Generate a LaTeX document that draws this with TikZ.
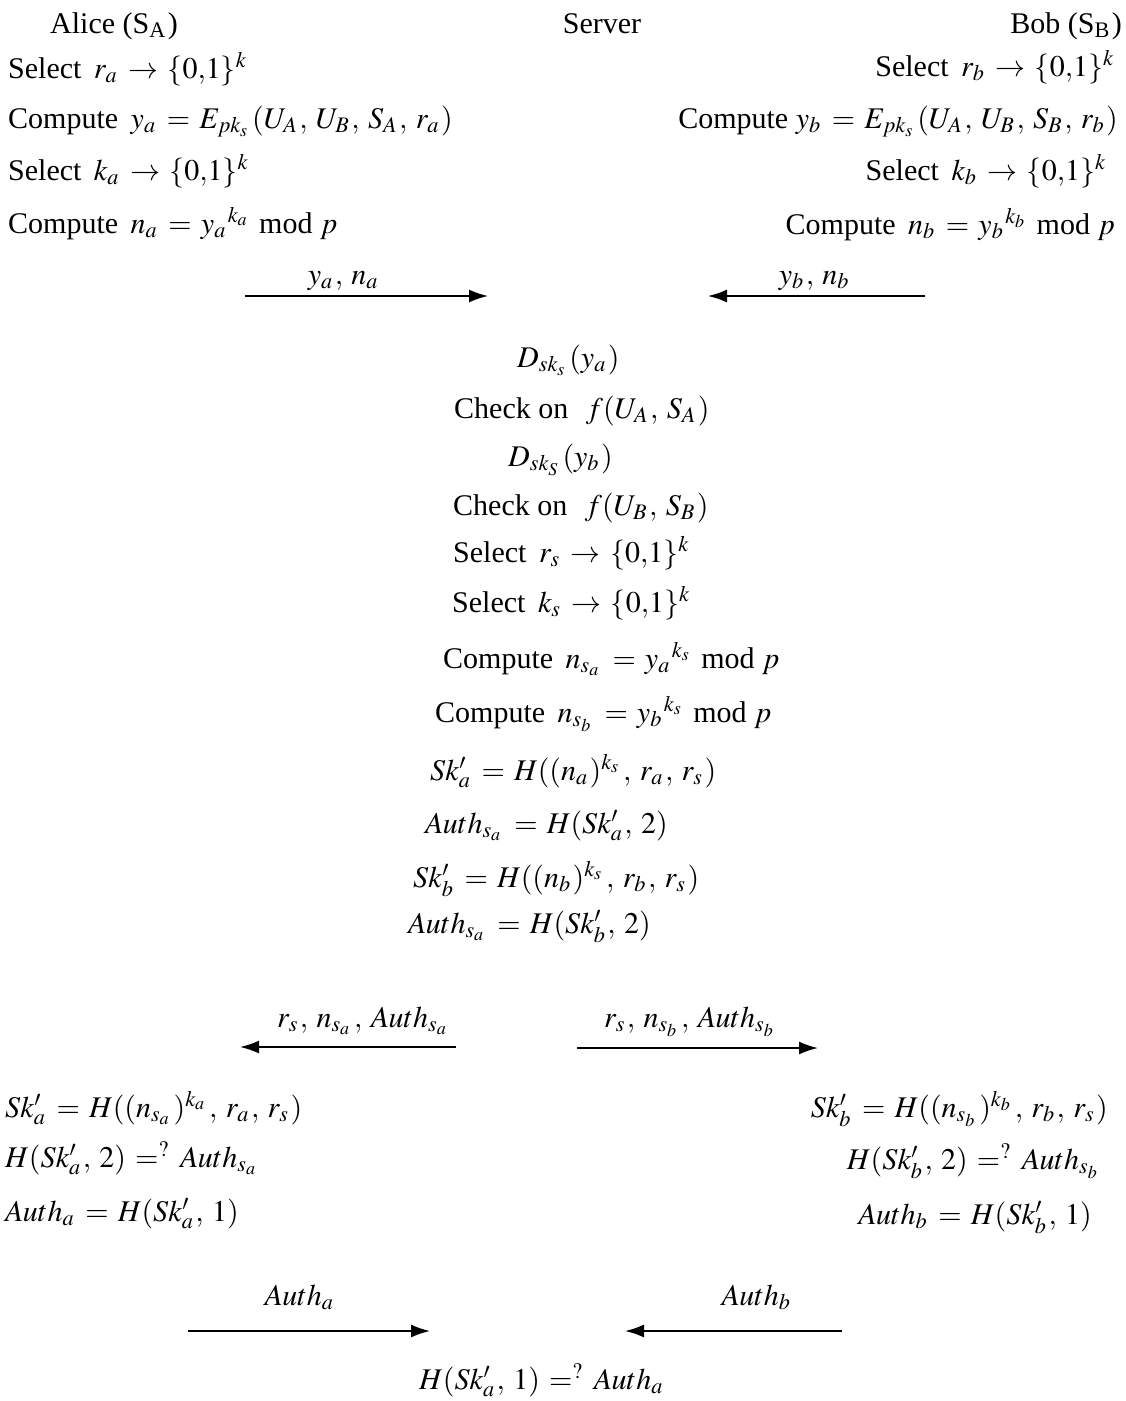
\documentclass[tikz,border=0pt]{standalone}
\usepackage{mathptmx}
\usepackage{fontspec}
\setmainfont{Liberation Serif}
\usetikzlibrary{arrows.meta}
\newcommand{\wsp}{~\,}
\newcommand{\bits}{\{0{,}1\}}
\begin{document}
\thinmuskip=5mu
\medmuskip=5mu plus 2mu
\thickmuskip=5.5mu plus 2mu
\scriptspace=2.5pt
\begin{tikzpicture}[x=1pt,y=-1pt,
  t/.style={inner sep=0pt, font=\fontsize{30}{35}\selectfont},
  lw/.style={t, anchor=base west},
  le/.style={t, anchor=base east},
  lc/.style={t, anchor=base},
  msg/.style={line width=1.8pt, -{Latex[length=19pt,width=13pt]}}]
\useasboundingbox[fill=white] (0,0) rectangle (1126,1401);
% headers
\node[lw] (alice) at (50,33) {Alice (S\textsubscript{A})};
\node[lc] (server) at (602,33) {Server};
\node[le] (bob) at (1122,33) {Bob (S\textsubscript{B})};
% Alice initial
\node[lw] (a1) at (8,78) {Select\wsp$r_a \rightarrow \bits^k$};
\node[lw] (a2) at (8,128) {Compute\wsp$y_a = E_{pk_s}(U_A,U_B,S_A,r_a)$};
\node[lw] (a3) at (8,180) {Select\wsp$k_a \rightarrow \bits^k$};
\node[lw] (a4) at (8,233) {Compute\wsp$n_a = {y_a}^{k_a}$ mod $p$};
% Bob initial
\node[le] (b1) at (1116,76) {Select\wsp$r_b \rightarrow \bits^k$};
\node[le] (b2) at (1118,128) {Compute $y_b = E_{pk_s}(U_A,U_B,S_B,r_b)$};
\node[le] (b3) at (1108,180) {Select\wsp$k_b \rightarrow \bits^k$};
\node[le] (b4) at (1115,234) {Compute\wsp$n_b = {y_b}^{k_b}$ mod $p$};
% first messages
\node[lc] (m1) at (344,284) {$y_a, n_a$};
\coordinate (m1s) at (245,296); \coordinate (m1e) at (488,296);
\draw[msg] (m1s) -- (m1e);
\node[lc] (m2) at (815,284) {$y_b, n_b$};
\coordinate (m2s) at (925,296); \coordinate (m2e) at (708,296);
\draw[msg] (m2s) -- (m2e);
% server
\node[lw] (s1) at (517,367) {$D_{sk_s}(y_a)$};
\node[lw] (s2) at (454,418) {Check on\wsp\,$f(U_A,S_A)$};
\node[lw] (s3) at (508,466) {$D_{sk_S}(y_b)$};
\node[lw] (s4) at (453,515) {Check on\wsp\,$f(U_B,S_B)$};
\node[lw] (s5) at (453,562) {Select\wsp$r_s \rightarrow \bits^k$};
\node[lw] (s6) at (452,612) {Select\wsp$k_s \rightarrow \bits^k$};
\node[lw] (s7) at (443,668) {Compute\wsp$n_{s_a} = {y_a}^{k_s}$ mod $p$};
\node[lw] (s8) at (435,722) {Compute\wsp$n_{s_b} = {y_b}^{k_s}$ mod $p$};
\node[lw] (s9) at (430,780) {$Sk'_a = H((n_a)^{k_s}, r_a, r_s)$};
\node[lw] (s10) at (425,833) {$Auth_{s_a} = H(Sk'_a, 2)$};
\node[lw] (s11) at (413,887) {$Sk'_b = H((n_b)^{k_s}, r_b, r_s)$};
\node[lw] (s12) at (408,933) {$Auth_{s_a} = H(Sk'_b, 2)$};
% second messages
\node[lc] (m3) at (364,1027) {$r_s, n_{s_a}, Auth_{s_a}$};
\coordinate (m3s) at (456,1047); \coordinate (m3e) at (240,1047);
\draw[msg] (m3s) -- (m3e);
\node[lc] (m4) at (691,1027) {$r_s, n_{s_b}, Auth_{s_b}$};
\coordinate (m4s) at (577,1048); \coordinate (m4e) at (818,1048);
\draw[msg] (m4s) -- (m4e);
% Alice final
\node[lw] (a5) at (5,1117) {$Sk'_a = H((n_{s_a})^{k_a}, r_a, r_s)$};
\node[lw] (a6) at (5,1167) {$H(Sk'_a,2) =^{?} Auth_{s_a}$};
\node[lw] (a7) at (5,1221) {$Auth_a = H(Sk'_a,1)$};
% Bob final
\node[le] (b5) at (1108,1117) {$Sk'_b = H((n_{s_b})^{k_b}, r_b, r_s)$};
\node[le] (b6) at (1102,1169) {$H(Sk'_b,2) =^{?} Auth_{s_b}$};
\node[le] (b7) at (1092,1224) {$Auth_b = H(Sk'_b,1)$};
% third messages
\node[lc] (m5) at (300,1305) {$Auth_a$};
\coordinate (m5s) at (188,1331); \coordinate (m5e) at (430,1331);
\draw[msg] (m5s) -- (m5e);
\node[lc] (m6) at (757,1305) {$Auth_b$};
\coordinate (m6s) at (842,1331); \coordinate (m6e) at (625,1331);
\draw[msg] (m6s) -- (m6e);
% final check
\node[lc] (fin) at (542,1389) {$H(Sk'_a,1) =^{?} Auth_a$};
\end{tikzpicture}
\end{document}
